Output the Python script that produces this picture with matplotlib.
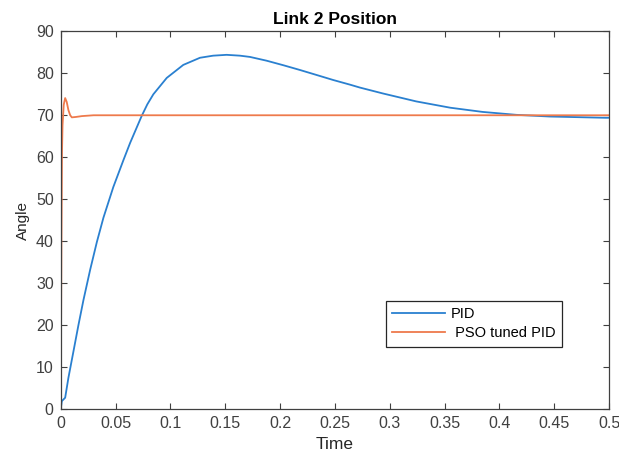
import numpy as np
import matplotlib.pyplot as plt

plt.rcParams['font.family'] = ['Liberation Sans', 'DejaVu Sans']

# PID response
pid_t = [0.0, 0.0011, 0.0041, 0.0071, 0.0117, 0.0162, 0.0208, 0.0269,
         0.033, 0.039, 0.048, 0.0572, 0.0633, 0.0738, 0.079, 0.0845,
         0.0967, 0.1118, 0.127, 0.139, 0.1513, 0.1635, 0.1726, 0.1878,
         0.2033, 0.218, 0.2333, 0.2485, 0.2637, 0.2728, 0.2937, 0.3242,
         0.3552, 0.3846, 0.4155, 0.4458, 0.4966, 0.5]
pid_y = [0.0, 1.9, 2.7, 7.5, 13.8, 20.0, 26.0, 33.2,
         39.8, 45.6, 52.9, 59.3, 63.4, 69.8, 72.6, 75.0,
         78.9, 82.0, 83.7, 84.2, 84.4, 84.2, 83.9, 83.0,
         81.9, 80.8, 79.6, 78.4, 77.3, 76.6, 75.2, 73.3,
         71.8, 70.8, 70.1, 69.7, 69.4, 69.4]

# PSO tuned PID response
pso_t = [0.0, 0.0003, 0.0007, 0.0012, 0.0017, 0.0028, 0.0041, 0.0055,
         0.0071, 0.0087, 0.0102, 0.014, 0.0193, 0.03, 0.5]
pso_y = [0.0, 15.0, 40.0, 61.0, 67.6, 72.5, 74.1, 73.2,
         71.2, 70.0, 69.5, 69.6, 69.8, 70.0, 70.0]

fig = plt.figure(figsize=(6.19, 4.54), dpi=100)
ax = fig.add_axes([0.098, 0.099, 0.886, 0.832])

ax.plot(pid_t, pid_y, color='#2A80D0', linewidth=1.3, label='PID')
ax.plot(pso_t, pso_y, color='#EE7A4C', linewidth=1.3, label=' PSO tuned PID')

ax.set_xlim(0, 0.5)
ax.set_ylim(0, 90)
ax.set_xticks(np.arange(0, 0.51, 0.05))
ax.set_xticklabels(['0', '0.05', '0.1', '0.15', '0.2', '0.25', '0.3',
                    '0.35', '0.4', '0.45', '0.5'])
ax.set_yticks(np.arange(0, 91, 10))
ax.tick_params(direction='in', top=True, right=True, labelsize=11.5,
               colors='#404040', length=4, pad=5)
for s in ax.spines.values():
    s.set_color('#404040')
    s.set_linewidth(0.9)

ax.set_title('Link 2 Position', fontsize=12.5, fontweight='bold', pad=5)
ax.set_xlabel('Time', fontsize=12.5, color='#262626', labelpad=4)
ax.set_ylabel('Angle', fontsize=11, color='#262626', labelpad=4)

leg = ax.legend(loc='lower right', bbox_to_anchor=(0.927, 0.145), fontsize=10.5,
                fancybox=False, edgecolor='#262626', framealpha=1,
                handlelength=3.6, handletextpad=0.4, borderpad=0.45,
                labelspacing=0.35)
leg.get_frame().set_linewidth(0.9)

fig.savefig('out.png', dpi=100)
